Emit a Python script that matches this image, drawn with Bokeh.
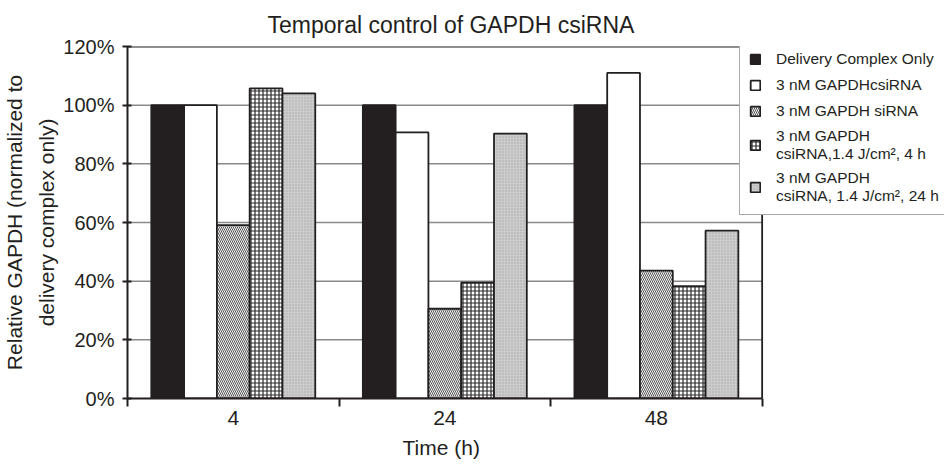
from bokeh.plotting import figure
from bokeh.models import (ColumnDataSource, Range1d, FixedTicker, NumeralTickFormatter,
                          Legend, LegendItem, Title)
from bokeh.transform import dodge
from bokeh.embed import file_html
from bokeh.resources import INLINE

# ---- data ----
times = ["4", "24", "48"]
delivery_only = [1.00, 1.00, 1.00]
csirna = [1.00, 0.907, 1.11]
sirna = [0.591, 0.306, 0.436]
csirna_4h = [1.057, 0.395, 0.383]
csirna_24h = [1.04, 0.903, 0.572]
y_ticks = [0, 0.2, 0.4, 0.6, 0.8, 1.0, 1.2]
series_labels = [
    "Delivery Complex Only",
    "3 nM GAPDHcsiRNA",
    "3 nM GAPDH siRNA",
    "3 nM GAPDH\ncsiRNA,1.4 J/cm\u00b2, 4 h",
    "3 nM GAPDH\ncsiRNA, 1.4 J/cm\u00b2, 24 h",
]

FONT = "Liberation Sans"
INK = "#231f20"
N = len(times)
X_END = 3.862  # frame extends under the legend to the right edge

src = ColumnDataSource(dict(
    x=[i + 0.5 for i in range(N)],
    delivery_only=delivery_only, csirna=csirna, sirna=sirna,
    csirna_4h=csirna_4h, csirna_24h=csirna_24h,
))

p = figure(width=944, height=464, x_range=Range1d(0, X_END), y_range=Range1d(0, y_ticks[-1]),
           output_backend="svg", toolbar_location=None,
           min_border_left=124, min_border_right=0, min_border_top=46, min_border_bottom=65)

p.title.text = "Temporal control of GAPDH csiRNA"
p.title.align = "left"
p.title.offset = 140
p.title.text_font = FONT
p.title.text_font_size = "23px"
p.title.text_font_style = "normal"
p.title.text_color = INK
p.title.standoff = 17

p.outline_line_color = None
p.xgrid.visible = False
p.ygrid.visible = False

# plot-area grid and border, limited to the category span
grid_src = ColumnDataSource(dict(y=y_ticks[1:-1], x0=[0] * (len(y_ticks) - 2),
                                 x1=[N] * (len(y_ticks) - 2)))
p.segment(x0="x0", x1="x1", y0="y", y1="y", source=grid_src,
          line_color="#8a8a8a", line_width=1.5)
p.segment(x0=[0], x1=[N], y0=[y_ticks[-1]], y1=[y_ticks[-1]], line_color=INK, line_width=1.8)
p.segment(x0=[N], x1=[N], y0=[0], y1=[y_ticks[-1]], line_color=INK, line_width=1.8)

w = 0.155
offs = [-2 * w, -w, 0, w, 2 * w]
styles = [
    dict(fill_color=INK),
    dict(fill_color="white"),
    dict(fill_color="#f4f4f4", hatch_pattern="left_diagonal_line", hatch_color="#444444",
         hatch_scale=4.0, hatch_weight=0.9),
    dict(fill_color="white", hatch_pattern="cross", hatch_color="#2a2a2a",
         hatch_scale=4.0, hatch_weight=1.2),
    dict(fill_color="#cccccc", hatch_pattern="dot", hatch_color="#aaaaaa",
         hatch_scale=3.0, hatch_weight=1.0),
]
cols = ["delivery_only", "csirna", "sirna", "csirna_4h", "csirna_24h"]
renderers = []
for col, off, st in zip(cols, offs, styles):
    r = p.vbar(x=dodge("x", off), top=col, width=w, source=src,
               line_color=INK, line_width=1.8, **st)
    renderers.append(r)

# axes
p.yaxis.ticker = FixedTicker(ticks=y_ticks)
p.yaxis.formatter = NumeralTickFormatter(format="0%")
p.yaxis.axis_label = "Relative GAPDH (normalized to\ndelivery complex only)"
p.yaxis.major_tick_in = 4
p.yaxis.major_tick_out = 5
p.yaxis.minor_tick_line_color = None
p.yaxis.major_label_standoff = 8
p.yaxis.axis_label_standoff = 2
p.yaxis.major_label_text_font_size = "20px"
p.yaxis.axis_label_text_font_size = "21px"
p.yaxis.axis_label_text_line_height = 1.4

p.xaxis.bounds = (0, N)
p.xaxis.ticker = FixedTicker(ticks=[i + 0.5 for i in range(N)],
                             minor_ticks=list(range(N + 1)))
p.xaxis.major_label_overrides = {i + 0.5: t for i, t in enumerate(times)}
p.xaxis.major_tick_in = 0
p.xaxis.major_tick_out = 0
p.xaxis.minor_tick_in = 0
p.xaxis.minor_tick_out = 8
p.xaxis.minor_tick_line_color = INK
p.xaxis.minor_tick_line_width = 2
p.xaxis.major_label_standoff = 4
p.xaxis.major_label_text_font_size = "21px"

for ax in (p.xaxis, p.yaxis):
    ax.axis_line_color = INK
    ax.axis_line_width = 2
    ax.major_tick_line_color = INK
    ax.major_tick_line_width = 2
    ax.major_label_text_font = FONT
    ax.major_label_text_color = INK
    ax.axis_label_text_font = FONT
    ax.axis_label_text_font_style = "normal"
    ax.axis_label_text_color = INK

# x-axis title, centred under the category span (not the whole frame)
xlab = Title(text="Time (h)", align="left", offset=275, text_font=FONT,
             text_font_size="21px", text_font_style="normal", text_color=INK, standoff=12)
p.add_layout(xlab, "below")

legend = Legend(items=[LegendItem(label=l, renderers=[r]) for l, r in zip(series_labels, renderers)],
                location=(612, 183))
legend.label_text_font = FONT
legend.label_text_font_size = "15.5px"
legend.label_text_line_height = 1.15
legend.label_text_color = INK
legend.glyph_width = 12
legend.glyph_height = 12
legend.label_standoff = 15
legend.label_height = 20
legend.spacing = 6
legend.padding = 9
legend.margin = 0
legend.border_line_color = "#555555"
legend.border_line_width = 1
legend.background_fill_color = "white"
legend.background_fill_alpha = 1.0
p.add_layout(legend, "center")

open("out.html", "w").write(file_html(p, INLINE))
